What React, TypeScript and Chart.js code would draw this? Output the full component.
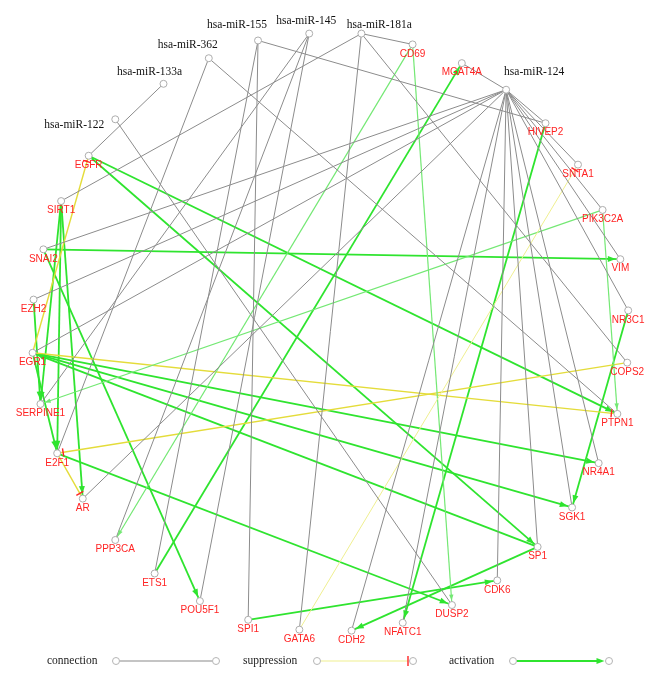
import React, { useEffect, useRef } from "react";
import { Chart, registerables } from "chart.js";

Chart.register(...registerables);

// microRNA nodes (layout coordinates)
const mirnaNames = ["hsa-miR-155", "hsa-miR-145", "hsa-miR-181a", "hsa-miR-362", "hsa-miR-133a", "hsa-miR-122", "hsa-miR-124"];
const mirnaX = [257, 309, 362, 207, 161, 112, 509];
const mirnaY = [36, 29, 29, 54, 80, 116, 86];

// gene nodes around the ring (layout coordinates)
const geneNames = ["CD69", "MGAT4A", "HIVEP2", "SNTA1", "PIK3C2A", "VIM", "NR3C1", "COPS2", "PTPN1", "NR4A1", "SGK1", "SP1", "CDK6", "DUSP2", "NFATC1", "CDH2", "GATA6", "SPI1", "POU5F1", "ETS1", "PPP3CA", "AR", "E2F1", "SERPINE1", "EGR1", "EZH2", "SNAI2", "SIRT1", "EGFR"];
const geneX = [414, 464, 549, 582, 607, 625, 633, 632, 622, 603, 576, 541, 500, 454, 404, 352, 299, 247, 198, 152, 112, 79, 53, 36, 28, 29, 39, 57, 85];
const geneY = [40, 59, 120, 162, 208, 258, 310, 363, 415, 465, 510, 550, 584, 609, 627, 635, 634, 624, 605, 577, 543, 501, 455, 405, 353, 299, 248, 199, 153];

// undirected miRNA-target connections
const connections: [string, string][] = [
  ["hsa-miR-124", "MGAT4A"], ["hsa-miR-124", "HIVEP2"], ["hsa-miR-124", "SNTA1"], ["hsa-miR-124", "PIK3C2A"],
  ["hsa-miR-124", "VIM"], ["hsa-miR-124", "NR3C1"], ["hsa-miR-124", "NR4A1"], ["hsa-miR-124", "SGK1"],
  ["hsa-miR-124", "SP1"], ["hsa-miR-124", "CDK6"], ["hsa-miR-124", "NFATC1"], ["hsa-miR-124", "CDH2"],
  ["hsa-miR-124", "AR"], ["hsa-miR-124", "SNAI2"], ["hsa-miR-124", "EZH2"], ["hsa-miR-124", "EGR1"],
  ["hsa-miR-155", "HIVEP2"], ["hsa-miR-155", "SPI1"], ["hsa-miR-155", "ETS1"],
  ["hsa-miR-145", "PPP3CA"], ["hsa-miR-145", "POU5F1"], ["hsa-miR-145", "SERPINE1"],
  ["hsa-miR-181a", "CD69"], ["hsa-miR-181a", "SIRT1"], ["hsa-miR-181a", "GATA6"], ["hsa-miR-181a", "COPS2"],
  ["hsa-miR-362", "E2F1"], ["hsa-miR-362", "PTPN1"],
  ["hsa-miR-133a", "EGFR"],
  ["hsa-miR-122", "DUSP2"],
];

// suppression: source --| target
const suppressions: [string, string][] = [
  ["EGR1", "EGFR"], ["EGR1", "PTPN1"], ["COPS2", "E2F1"], ["E2F1", "AR"],
];
const weakSuppressions: [string, string][] = [["GATA6", "SNTA1"]];

// activation: source --> target
const activations: [string, string][] = [
  ["EGFR", "PTPN1"], ["EGFR", "SP1"], ["SNAI2", "VIM"], ["SNAI2", "POU5F1"],
  ["SIRT1", "E2F1"], ["SIRT1", "AR"], ["SIRT1", "SERPINE1"], ["EZH2", "SERPINE1"],
  ["EGR1", "E2F1"], ["EGR1", "NR4A1"], ["EGR1", "SGK1"], ["SP1", "EGR1"],
  ["E2F1", "DUSP2"], ["NR3C1", "SGK1"], ["HIVEP2", "NFATC1"], ["ETS1", "MGAT4A"],
  ["SPI1", "CDK6"], ["SP1", "CDH2"],
];
const weakActivations: [string, string][] = [
  ["CD69", "PPP3CA"], ["CD69", "DUSP2"], ["PIK3C2A", "SERPINE1"], ["PIK3C2A", "PTPN1"],
];

const GRAY = "#8c8c8c";
const GREEN = "#2fe42f";
const LIGHT_GREEN = "#74e874";
const YELLOW = "#e4dc3a";
const LIGHT_YELLOW = "#efef90";
const RED = "#ff2424";

// label placement for the miRNA captions (dx, dy from node centre)
const mirnaLabelShift: Record<string, [number, number]> = {
  "hsa-miR-155": [-21, -15],
  "hsa-miR-145": [-3, -13],
  "hsa-miR-181a": [18, -9],
  "hsa-miR-362": [-21, -13],
  "hsa-miR-133a": [-14, -12],
  "hsa-miR-122": [-41, 6],
  "hsa-miR-124": [28, -18],
};

function nodePos(name: string): { x: number; y: number } {
  const m = mirnaNames.indexOf(name);
  if (m >= 0) return { x: mirnaX[m], y: mirnaY[m] };
  const g = geneNames.indexOf(name);
  return { x: geneX[g], y: geneY[g] };
}

function arrowHead(ctx: CanvasRenderingContext2D, x1: number, y1: number, x2: number, y2: number, color: string, len: number, half: number, gap: number) {
  const a = Math.atan2(y2 - y1, x2 - x1);
  const c = Math.cos(a), s = Math.sin(a);
  const tx = x2 - gap * c, ty = y2 - gap * s;
  const bx = tx - len * c, by = ty - len * s;
  ctx.beginPath();
  ctx.moveTo(tx, ty);
  ctx.lineTo(bx - half * s, by + half * c);
  ctx.lineTo(bx + half * s, by - half * c);
  ctx.closePath();
  ctx.fillStyle = color;
  ctx.fill();
}

function tBar(ctx: CanvasRenderingContext2D, x1: number, y1: number, x2: number, y2: number, gap: number, half: number) {
  const a = Math.atan2(y2 - y1, x2 - x1);
  const c = Math.cos(a), s = Math.sin(a);
  const tx = x2 - gap * c, ty = y2 - gap * s;
  ctx.beginPath();
  ctx.moveTo(tx - half * s, ty + half * c);
  ctx.lineTo(tx + half * s, ty - half * c);
  ctx.strokeStyle = RED;
  ctx.lineWidth = 1.4;
  ctx.stroke();
}

const decorations = {
  id: "networkDecorations",
  afterDatasetsDraw(chart: any) {
    const ctx: CanvasRenderingContext2D = chart.ctx;
    const xs = chart.scales.x;
    const ys = chart.scales.y;
    const px = (name: string) => {
      const p = nodePos(name);
      return { x: xs.getPixelForValue(p.x), y: ys.getPixelForValue(p.y) };
    };
    ctx.save();
    activations.forEach(([a, b]) => {
      const p = px(a), q = px(b);
      arrowHead(ctx, p.x, p.y, q.x, q.y, GREEN, 8, 3, 4.5);
    });
    weakActivations.forEach(([a, b]) => {
      const p = px(a), q = px(b);
      arrowHead(ctx, p.x, p.y, q.x, q.y, LIGHT_GREEN, 6, 2.2, 4.5);
    });
    [...suppressions, ...weakSuppressions].forEach(([a, b]) => {
      const p = px(a), q = px(b);
      tBar(ctx, p.x, p.y, q.x, q.y, 6, 4);
    });

    // captions
    ctx.textAlign = "center";
    ctx.textBaseline = "middle";
    ctx.font = '10px "Liberation Sans", Arial, sans-serif';
    ctx.fillStyle = RED;
    geneNames.forEach((n) => {
      const p = px(n);
      ctx.fillText(n, p.x, p.y + 9.5);
    });
    ctx.font = '11.5px "Liberation Serif", "Times New Roman", serif';
    ctx.fillStyle = "#111";
    mirnaNames.forEach((n) => {
      const p = px(n);
      const [dx, dy] = mirnaLabelShift[n];
      ctx.fillText(n, p.x + dx, p.y + dy);
    });

    // key along the bottom
    const ky = 661;
    const circle = (cx: number) => {
      ctx.beginPath();
      ctx.arc(cx, ky, 3.5, 0, Math.PI * 2);
      ctx.fillStyle = "#fff";
      ctx.fill();
      ctx.strokeStyle = "#b4b4b4";
      ctx.lineWidth = 1;
      ctx.stroke();
    };
    const seg = (x1: number, x2: number, color: string, w: number) => {
      ctx.beginPath();
      ctx.moveTo(x1, ky);
      ctx.lineTo(x2, ky);
      ctx.strokeStyle = color;
      ctx.lineWidth = w;
      ctx.stroke();
    };
    ctx.textAlign = "left";
    ctx.fillStyle = "#222";
    ctx.font = '11.5px "Liberation Serif", "Times New Roman", serif';
    ctx.fillText("connection", 47, ky);
    seg(120, 212, "#c4c4c4", 2);
    circle(116);
    circle(216);
    ctx.fillStyle = "#222";
    ctx.fillText("suppression", 243, ky);
    seg(321, 408, LIGHT_YELLOW, 1.2);
    ctx.beginPath();
    ctx.moveTo(408, ky - 5);
    ctx.lineTo(408, ky + 5);
    ctx.strokeStyle = RED;
    ctx.lineWidth = 1.4;
    ctx.stroke();
    circle(317);
    circle(413);
    ctx.fillStyle = "#222";
    ctx.fillText("activation", 449, ky);
    seg(517, 598, GREEN, 1.8);
    arrowHead(ctx, 517, ky, 609, ky, GREEN, 8, 3, 4.5);
    circle(513);
    circle(609);
    ctx.restore();
  },
};

export default function App() {
  const ref = useRef<HTMLCanvasElement>(null);

  useEffect(() => {
    if (!ref.current) return;
    const edgeSet = (pairs: [string, string][], color: string, width: number) =>
      pairs.map(([a, b]) => ({
        label: a + "-" + b,
        data: [nodePos(a), nodePos(b)],
        showLine: true,
        borderColor: color,
        borderWidth: width,
        pointRadius: 0,
        fill: false,
        order: 1,
        clip: false as any,
      }));

    const nodes = [
      ...mirnaNames.map((n) => nodePos(n)),
      ...geneNames.map((n) => nodePos(n)),
    ];

    const datasets: any[] = [
      {
        label: "nodes",
        data: nodes,
        showLine: false,
        pointRadius: 3.5,
        pointBackgroundColor: "#ffffff",
        pointBorderColor: "#adadad",
        pointBorderWidth: 1,
        order: 0,
        clip: false,
      },
      ...edgeSet(connections, GRAY, 1),
      ...edgeSet(weakSuppressions, LIGHT_YELLOW, 1),
      ...edgeSet(weakActivations, LIGHT_GREEN, 1.2),
      ...edgeSet(suppressions, YELLOW, 1.4),
      ...edgeSet(activations, GREEN, 1.8),
    ];

    const chart = new Chart(ref.current, {
      type: "scatter",
      data: { datasets },
      options: {
        animation: false,
        responsive: false,
        events: [],
        layout: { padding: 0 },
        plugins: { legend: { display: false }, tooltip: { enabled: false } },
        scales: {
          x: { type: "linear", min: 0, max: 646, display: false },
          y: { type: "linear", min: 0, max: 678, reverse: true, display: false },
        },
      },
      plugins: [decorations],
    });
    return () => chart.destroy();
  }, []);

  return (
    <div style={{ position: "absolute", left: 0, top: 0, width: 646, height: 678, background: "#ffffff" }}>
      <canvas ref={ref} width={646} height={678} style={{ display: "block" }} />
    </div>
  );
}
